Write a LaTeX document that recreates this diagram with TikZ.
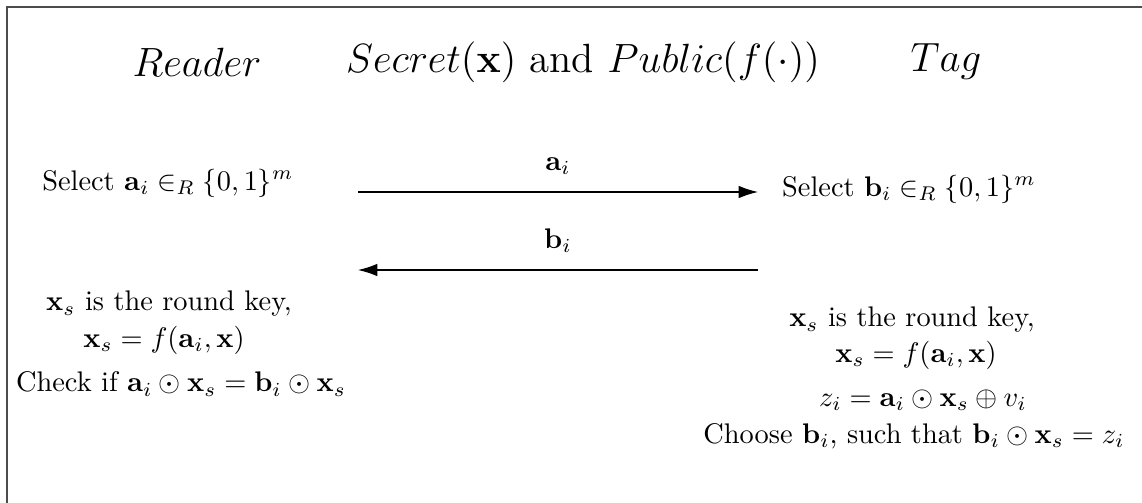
\documentclass[tikz,border=0pt]{standalone}
\usepackage{amsmath}
\usetikzlibrary{arrows.meta}
\begin{document}
\begin{tikzpicture}[x=0.3525pt,y=-0.3525pt,
  txt/.style={inner sep=0pt,anchor=center},
  head/.style={inner sep=0pt,anchor=center,font=\Large},
  msg/.style={-{Latex[length=6.8pt,width=4.4pt]},line width=0.4pt}]
\useasboundingbox (0,0) rectangle (1142,502);
\draw[line width=0.5pt,black!70] (7,7) rectangle (1160,520);
\node[head] (reader) at (197,62) {$Reader$};
\node[head] (secret) at (583,62) {$Secret(\mathbf{x})$ and $Public(f(\cdot))$};
\node[head] (tag) at (946,62) {$Tag$};
\node[txt] (sa) at (168,183) {Select $\mathbf{a}_i \in_R \{0,1\}^m$};
\node[txt] (sb) at (909,189) {Select $\mathbf{b}_i \in_R \{0,1\}^m$};
\coordinate (a1) at (358,192);
\coordinate (a2) at (758,192);
\coordinate (b1) at (758,270);
\coordinate (b2) at (358,270);
\draw[msg] (a1) -- node[above=6pt,inner sep=0pt] (la) {$\mathbf{a}_i$} (a2);
\draw[msg] (b1) -- node[above=6pt,inner sep=0pt] (lb) {$\mathbf{b}_i$} (b2);
\node[txt] (l1) at (169,304) {$\mathbf{x}_s$ is the round key,};
\node[txt] (l2) at (164,340) {$\mathbf{x}_s = f(\mathbf{a}_i,\mathbf{x})$};
\node[txt] (l3) at (181,384) {Check if $\mathbf{a}_i \odot \mathbf{x}_s = \mathbf{b}_i \odot \mathbf{x}_s$};
\node[txt] (r1) at (912,320) {$\mathbf{x}_s$ is the round key,};
\node[txt] (r2) at (916,355) {$\mathbf{x}_s = f(\mathbf{a}_i,\mathbf{x})$};
\node[txt] (r3) at (923,400) {$z_i = \mathbf{a}_i \odot \mathbf{x}_s \oplus v_i$};
\node[txt] (r4) at (914,436) {Choose $\mathbf{b}_i$, such that $\mathbf{b}_i \odot \mathbf{x}_s = z_i$};
\end{tikzpicture}
\end{document}
